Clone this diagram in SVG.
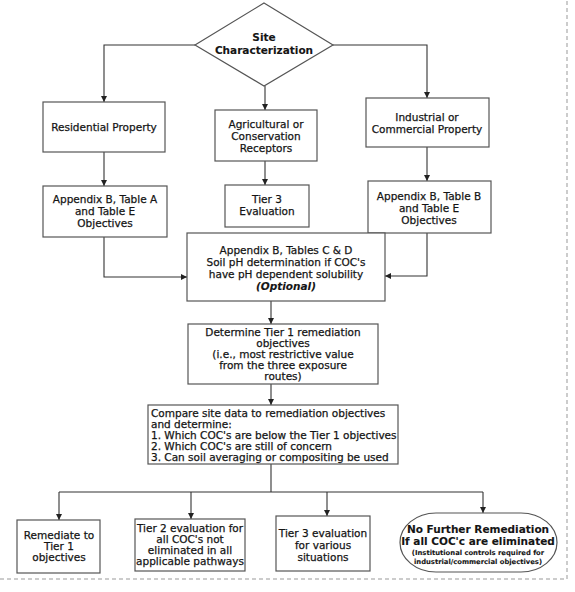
<svg xmlns="http://www.w3.org/2000/svg" width="575" height="592" viewBox="0 0 575 592">
<defs>
<marker id="ah" viewBox="0 0 10 10" refX="10" refY="5" markerWidth="6" markerHeight="6" orient="auto" markerUnits="userSpaceOnUse">
<path d="M0,0 L10,5 L0,10 z" fill="#222"/>
</marker>
<style>
.box{fill:#fff;stroke:#555;stroke-width:1.2}
.t{font-family:"DejaVu Sans","Liberation Sans",sans-serif;font-size:10.5px;fill:#151515;stroke:#151515;stroke-width:0.25;text-anchor:middle}
.l{text-anchor:start}
.b{font-weight:bold;stroke-width:0.1}
.s{font-size:6.8px}
.c{fill:none;stroke:#333;stroke-width:1.1}
.frame{fill:none;stroke:#999;stroke-width:1;stroke-dasharray:4 3}
</style>
</defs>
<rect width="575" height="592" fill="#fff"/>
<path class="frame" d="M0,579 H567 V0"/>

<g id="connectors">
<path class="c" d="M195,45 H104 V102" marker-end="url(#ah)"/>
<path class="c" d="M333,45 H427 V98" marker-end="url(#ah)"/>
<path class="c" d="M265,86 V110" marker-end="url(#ah)"/>
<path class="c" d="M104,152 V186" marker-end="url(#ah)"/>
<path class="c" d="M265,161 V185" marker-end="url(#ah)"/>
<path class="c" d="M427,147 V181" marker-end="url(#ah)"/>
<path class="c" d="M104,237 V277 H187" marker-end="url(#ah)"/>
<path class="c" d="M427,233 V276 H385" marker-end="url(#ah)"/>
<path class="c" d="M271,301 V324" marker-end="url(#ah)"/>
<path class="c" d="M271,384 V405" marker-end="url(#ah)"/>
<path class="c" d="M271,464 V492 M59,492 H483"/>
<path class="c" d="M59,492 V520" marker-end="url(#ah)"/>
<path class="c" d="M191,492 V519" marker-end="url(#ah)"/>
<path class="c" d="M327,492 V516" marker-end="url(#ah)"/>
<path class="c" d="M483,492 V513" marker-end="url(#ah)"/>
</g>

<g id="site">
<polygon class="box" points="264,3 333,45 264,86 195,45"/>
<text class="t b" x="264" y="41">Site</text>
<text class="t b" x="264" y="54">Characterization</text>
</g>

<g id="residential">
<rect class="box" x="43" y="102" width="122" height="50"/>
<text class="t" x="104" y="131">Residential Property</text>
</g>

<g id="agricultural">
<rect class="box" x="215" y="110" width="102" height="51"/>
<text class="t" x="266" y="128">Agricultural or</text>
<text class="t" x="266" y="140">Conservation</text>
<text class="t" x="266" y="152">Receptors</text>
</g>

<g id="industrial">
<rect class="box" x="366" y="98" width="123" height="49"/>
<text class="t" x="427" y="121">Industrial or</text>
<text class="t" x="427" y="133">Commercial Property</text>
</g>

<g id="appA">
<rect class="box" x="43" y="186" width="124" height="51"/>
<text class="t" x="105" y="203">Appendix B, Table A</text>
<text class="t" x="105" y="215">and Table E</text>
<text class="t" x="105" y="227">Objectives</text>
</g>

<g id="tier3eval">
<rect class="box" x="225" y="185" width="84" height="42"/>
<text class="t" x="267" y="203">Tier 3</text>
<text class="t" x="267" y="215">Evaluation</text>
</g>

<g id="appB">
<rect class="box" x="368" y="181" width="123" height="52"/>
<text class="t" x="429" y="200">Appendix B, Table B</text>
<text class="t" x="429" y="212">and Table E</text>
<text class="t" x="429" y="224">Objectives</text>
</g>

<g id="appCD">
<rect class="box" x="187" y="233" width="198" height="68"/>
<text class="t" x="286" y="254">Appendix B, Tables C &amp; D</text>
<text class="t" x="286" y="266">Soil pH determination if COC's</text>
<text class="t" x="286" y="278">have pH dependent solubility</text>
<text class="t b" x="286" y="290" font-style="italic">(Optional)</text>
</g>

<g id="tier1">
<rect class="box" x="188" y="324" width="190" height="60"/>
<text class="t" x="283" y="336">Determine Tier 1 remediation</text>
<text class="t" x="283" y="347">objectives</text>
<text class="t" x="283" y="358">(i.e., most restrictive value</text>
<text class="t" x="283" y="369">from the three exposure</text>
<text class="t" x="283" y="380">routes)</text>
</g>

<g id="compare">
<rect class="box" x="148" y="405" width="250" height="59"/>
<text class="t l" x="151" y="417">Compare site data to remediation objectives</text>
<text class="t l" x="151" y="428">and determine:</text>
<text class="t l" x="151" y="439">1. Which COC's are below the Tier 1 objectives</text>
<text class="t l" x="151" y="450">2. Which COC's are still of concern</text>
<text class="t l" x="151" y="461">3. Can soil averaging or compositing be used</text>
</g>

<g id="remediate">
<rect class="box" x="17" y="520" width="83" height="53"/>
<text class="t" x="59" y="539">Remediate to</text>
<text class="t" x="59" y="550">Tier 1</text>
<text class="t" x="59" y="561">objectives</text>
</g>

<g id="tier2">
<rect class="box" x="135" y="519" width="110" height="52"/>
<text class="t" x="190" y="532">Tier 2 evaluation for</text>
<text class="t" x="190" y="543">all COC's not</text>
<text class="t" x="190" y="554">eliminated in all</text>
<text class="t" x="190" y="565">applicable pathways</text>
</g>

<g id="tier3">
<rect class="box" x="276" y="516" width="94" height="55"/>
<text class="t" x="323" y="537">Tier 3 evaluation</text>
<text class="t" x="323" y="549">for various</text>
<text class="t" x="323" y="561">situations</text>
</g>

<g id="nfr">
<rect class="box" x="400" y="513" width="157" height="59" rx="36" ry="29.5"/>
<text class="t b" x="478" y="533" font-size="9.6px">No Further Remediation</text>
<text class="t b" x="478" y="545" font-size="9.6px">If all COC'c are eliminated</text>
<text class="t b s" x="478" y="555">(Institutional controls required for</text>
<text class="t b s" x="478" y="564">industrial/commercial objectives)</text>
</g>
</svg>
